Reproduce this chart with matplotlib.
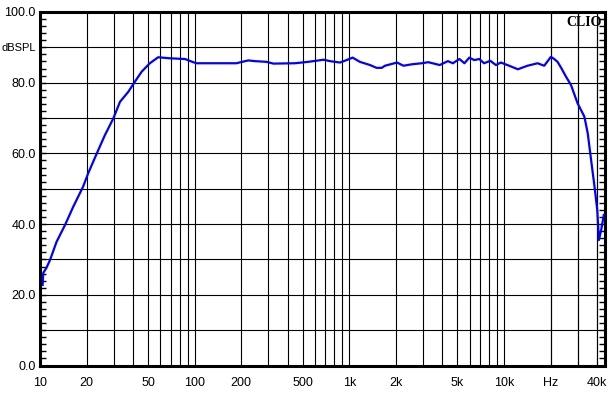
import numpy as np
import matplotlib
matplotlib.use("Agg")
import matplotlib.pyplot as plt
from matplotlib.ticker import FixedLocator, MultipleLocator, NullFormatter

# frequency response
freq = [10.4, 10.5, 11.0, 11.6, 12.8, 14.5, 16.4, 19.0, 20.5, 23.3, 26.3, 29.8,
        32.9, 37.2, 41.1, 45.4, 51.3, 58.1, 69.2, 86.6, 97.9, 103, 186, 222,
        245, 291, 323, 444, 543, 682, 750, 870, 960, 1050, 1170, 1360, 1500,
        1620, 1700, 2035, 2240, 2530, 2940, 3240, 3840, 4340, 4670, 5150,
        5550, 5970, 6420, 6920, 7440, 8150, 8870, 9550, 10800, 12300, 14200,
        16500, 18200, 20100, 21000, 22200, 23500, 25100, 27100, 29900, 33100,
        34800, 36600, 38500, 40100, 41100, 42500, 44200]
spl = [22.8, 26.2, 27.6, 29.8, 35.0, 39.7, 44.9, 50.6, 54.4, 60.0, 65.2, 69.9,
       74.6, 77.4, 80.3, 83.1, 85.5, 87.2, 86.9, 86.7, 85.8, 85.5, 85.5, 86.3,
       86.1, 85.9, 85.4, 85.5, 85.9, 86.5, 86.1, 85.7, 86.4, 87.1, 85.9, 85.0,
       84.2, 84.2, 84.8, 85.7, 84.8, 85.2, 85.5, 85.8, 85.0, 86.1, 85.5, 86.7,
       85.5, 87.1, 86.4, 86.7, 85.5, 86.2, 85.0, 85.7, 84.8, 83.8, 84.8,
       85.5, 84.8, 87.3, 86.8, 85.9, 84.1, 81.8, 79.4, 74.2, 70.4,
       65.7, 58.1, 50.6, 44.0, 35.5, 38.3, 42.6]

x_ticks = [10, 20, 50, 100, 200, 500, 1000, 2000, 5000, 10000, 20000, 40000]
x_labels = ["10", "20", "50", "100", "200", "500", "1k", "2k", "5k", "10k", "Hz", "40k"]
y_ticks = [0, 20, 40, 60, 80, 90, 100]
y_labels = ["0.0", "20.0", "40.0", "60.0", "80.0", "dBSPL", "100.0"]

plt.rcParams["font.family"] = ["Liberation Sans", "DejaVu Sans"]

fig = plt.figure(figsize=(6.15, 3.99), dpi=100)
ax = fig.add_axes([40 / 615, (399 - 365.5) / 399, 565 / 615, 353.5 / 399])

# grid lines
vgrid = [m * 10 ** e for e in range(1, 5) for m in range(1, 10)] + [20000, 30000, 40000]
for v in vgrid:
    if 10 < v < 45000:
        ax.axvline(v, color="black", lw=0.8, zorder=1)
for h in range(10, 100, 10):
    ax.axhline(h, color="black", lw=0.8, zorder=1)

ax.plot(freq, spl, color="#0000ff", lw=1.6, zorder=3)

ax.set_xscale("log")
ax.set_xlim(10, 45000)
ax.set_ylim(0, 100)

ax.xaxis.set_major_locator(FixedLocator(x_ticks))
ax.set_xticklabels(x_labels)
ax.xaxis.set_minor_formatter(NullFormatter())
ax.tick_params(axis="x", which="both", length=0, pad=8, labelsize=9)

ax.set_yticks(y_ticks)
ax.set_yticklabels(y_labels)
ax.yaxis.set_minor_locator(MultipleLocator(2))
ax.tick_params(axis="y", which="both", direction="in", left=True, right=True,
               length=4, width=1, pad=3, labelsize=9)
ax.get_yticklabels()[5].set_fontsize(8)

for s in ax.spines.values():
    s.set_linewidth(2.2)

ax.text(0.995, 0.99, "CLIO", transform=ax.transAxes, ha="right", va="top",
        fontsize=10, fontweight="bold", family="Liberation Serif", zorder=4)

fig.savefig("out.png", dpi=100)
